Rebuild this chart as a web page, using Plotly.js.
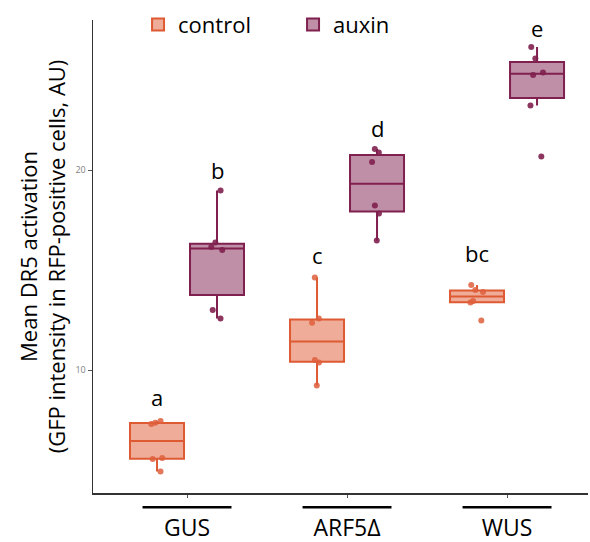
<!DOCTYPE html>
<html><head><meta charset="utf-8">
<script src="https://cdn.plot.ly/plotly-3.0.1.min.js"></script>
<style>html,body{margin:0;padding:0;background:#fff}#chart{width:590px;height:542px}</style>
</head><body><div id="chart"></div>
<script>
const categories = ['GUS', 'ARF5\u0394', 'WUS'];
const controlGUS  = [4.92, 5.55, 5.60, 7.30, 7.36, 7.45];
const auxinGUS    = [12.58, 13.00, 16.00, 16.15, 16.37, 18.97];
const controlARF5 = [9.22, 10.38, 10.50, 12.36, 12.58, 14.63];
const auxinARF5   = [16.48, 17.83, 18.23, 20.40, 20.87, 21.05];
const controlWUS  = [12.48, 13.37, 13.45, 13.90, 14.00, 14.25];
const auxinWUS    = [20.67, 23.22, 24.75, 24.88, 25.58, 26.15];
const controlLetters = ['a', 'c', 'bc'];
const auxinLetters   = ['b', 'd', 'e'];
const controlLetterY = [8.65, 15.75, 15.85];
const auxinLetterY   = [20.0, 22.1, 27.1];
const yTicks = [10, 20];

const controlData = [controlGUS, controlARF5, controlWUS];
const auxinData = [auxinGUS, auxinARF5, auxinWUS];

const COL = {
  control: {line: '#DE5A33', fill: 'rgba(222,90,51,0.5)', pt: 'rgba(222,95,60,0.85)'},
  auxin: {line: '#80204F', fill: 'rgba(128,32,79,0.5)', pt: 'rgba(128,32,79,0.9)'}
};

function q7(arr, p) {
  const s = [...arr].sort((a, b) => a - b);
  const h = (s.length - 1) * p, lo = Math.floor(h), hi = Math.ceil(h);
  return s[lo] + (h - lo) * (s[hi] - s[lo]);
}
function stats(groups) {
  const out = {q1: [], med: [], q3: [], lf: [], uf: []};
  groups.forEach(arr => {
    const s = [...arr].sort((a, b) => a - b);
    const q1 = q7(s, 0.25), q3 = q7(s, 0.75), med = q7(s, 0.5), iqr = q3 - q1;
    out.q1.push(q1); out.q3.push(q3); out.med.push(med);
    out.lf.push(s.find(v => v >= q1 - 1.5 * iqr));
    out.uf.push([...s].reverse().find(v => v <= q3 + 1.5 * iqr));
  });
  return out;
}

function boxTrace(name, groups, c) {
  const st = stats(groups);
  return {
    type: 'box', name: name, x: categories,
    q1: st.q1, median: st.med, q3: st.q3, lowerfence: st.lf, upperfence: st.uf,
    boxpoints: false, whiskerwidth: 0,
    line: {color: c.line, width: 2}, fillcolor: c.fill,
    offsetgroup: name, hoverinfo: 'skip'
  };
}
function pointTrace(name, groups, c) {
  const xs = [], ys = [];
  groups.forEach((arr, i) => arr.forEach(v => { xs.push(categories[i]); ys.push(v); }));
  return {
    type: 'box', name: name, x: xs, y: ys, showlegend: false,
    boxpoints: 'all', jitter: 0.25, pointpos: 0, whiskerwidth: 0,
    line: {width: 0, color: 'rgba(0,0,0,0)'}, fillcolor: 'rgba(0,0,0,0)',
    marker: {color: c.pt, size: 6}, offsetgroup: name, hoverinfo: 'skip'
  };
}

const data = [
  boxTrace('control', controlData, COL.control),
  boxTrace('auxin', auxinData, COL.auxin),
  pointTrace('control', controlData, COL.control),
  pointTrace('auxin', auxinData, COL.auxin)
];

const OFF = 0.1875;
const annotations = [];
categories.forEach((c, i) => {
  annotations.push({x: i - OFF, y: controlLetterY[i], xref: 'x', yref: 'y', text: controlLetters[i], showarrow: false, font: {size: 22, color: '#000'}});
  annotations.push({x: i + OFF, y: auxinLetterY[i], xref: 'x', yref: 'y', text: auxinLetters[i], showarrow: false, font: {size: 22, color: '#000'}});
});
const shapes = categories.map((c, i) => ({
  type: 'line', xref: 'x', yref: 'paper', x0: i - 0.278, x1: i + 0.278, y0: -0.03, y1: -0.03,
  line: {color: '#000', width: 2.5}
}));

const layout = {
  width: 590, height: 542,
  margin: {l: 93, r: 2, t: 20, b: 49},
  paper_bgcolor: '#fff', plot_bgcolor: '#fff',
  font: {family: '"Open Sans", sans-serif', color: '#000'},
  boxmode: 'group', boxgap: 0.25, boxgroupgap: 0.1,
  showlegend: true,
  legend: {orientation: 'h', x: 0.091, xanchor: 'left', y: 0.99, yanchor: 'middle',
           font: {size: 22, color: '#000'}, bgcolor: 'rgba(0,0,0,0)', entrywidth: 110},
  xaxis: {type: 'category', range: [-0.5875, 2.506], showline: true, linecolor: '#333', linewidth: 1.5,
          ticks: 'outside', ticklen: 3, tickcolor: '#555', showgrid: false, zeroline: false,
          tickfont: {size: 23, color: '#000'}, ticklabelstandoff: 11, automargin: false},
  yaxis: {range: [3.85, 27.5], tickvals: yTicks, ticktext: yTicks.map(String), showline: true, linecolor: '#333', linewidth: 1.5,
          ticks: 'outside', ticklen: 4, tickcolor: '#555', showgrid: false, zeroline: false,
          tickfont: {size: 9, color: '#808080'}, automargin: false,
          title: {text: 'Mean DR5 activation<br>(GFP intensity in RFP-positive cells, AU)', font: {size: 22, color: '#000'}, standoff: 3}},
  annotations: annotations, shapes: shapes
};

Plotly.newPlot('chart', data, layout, {displayModeBar: false, staticPlot: true});
</script>
</body></html>
